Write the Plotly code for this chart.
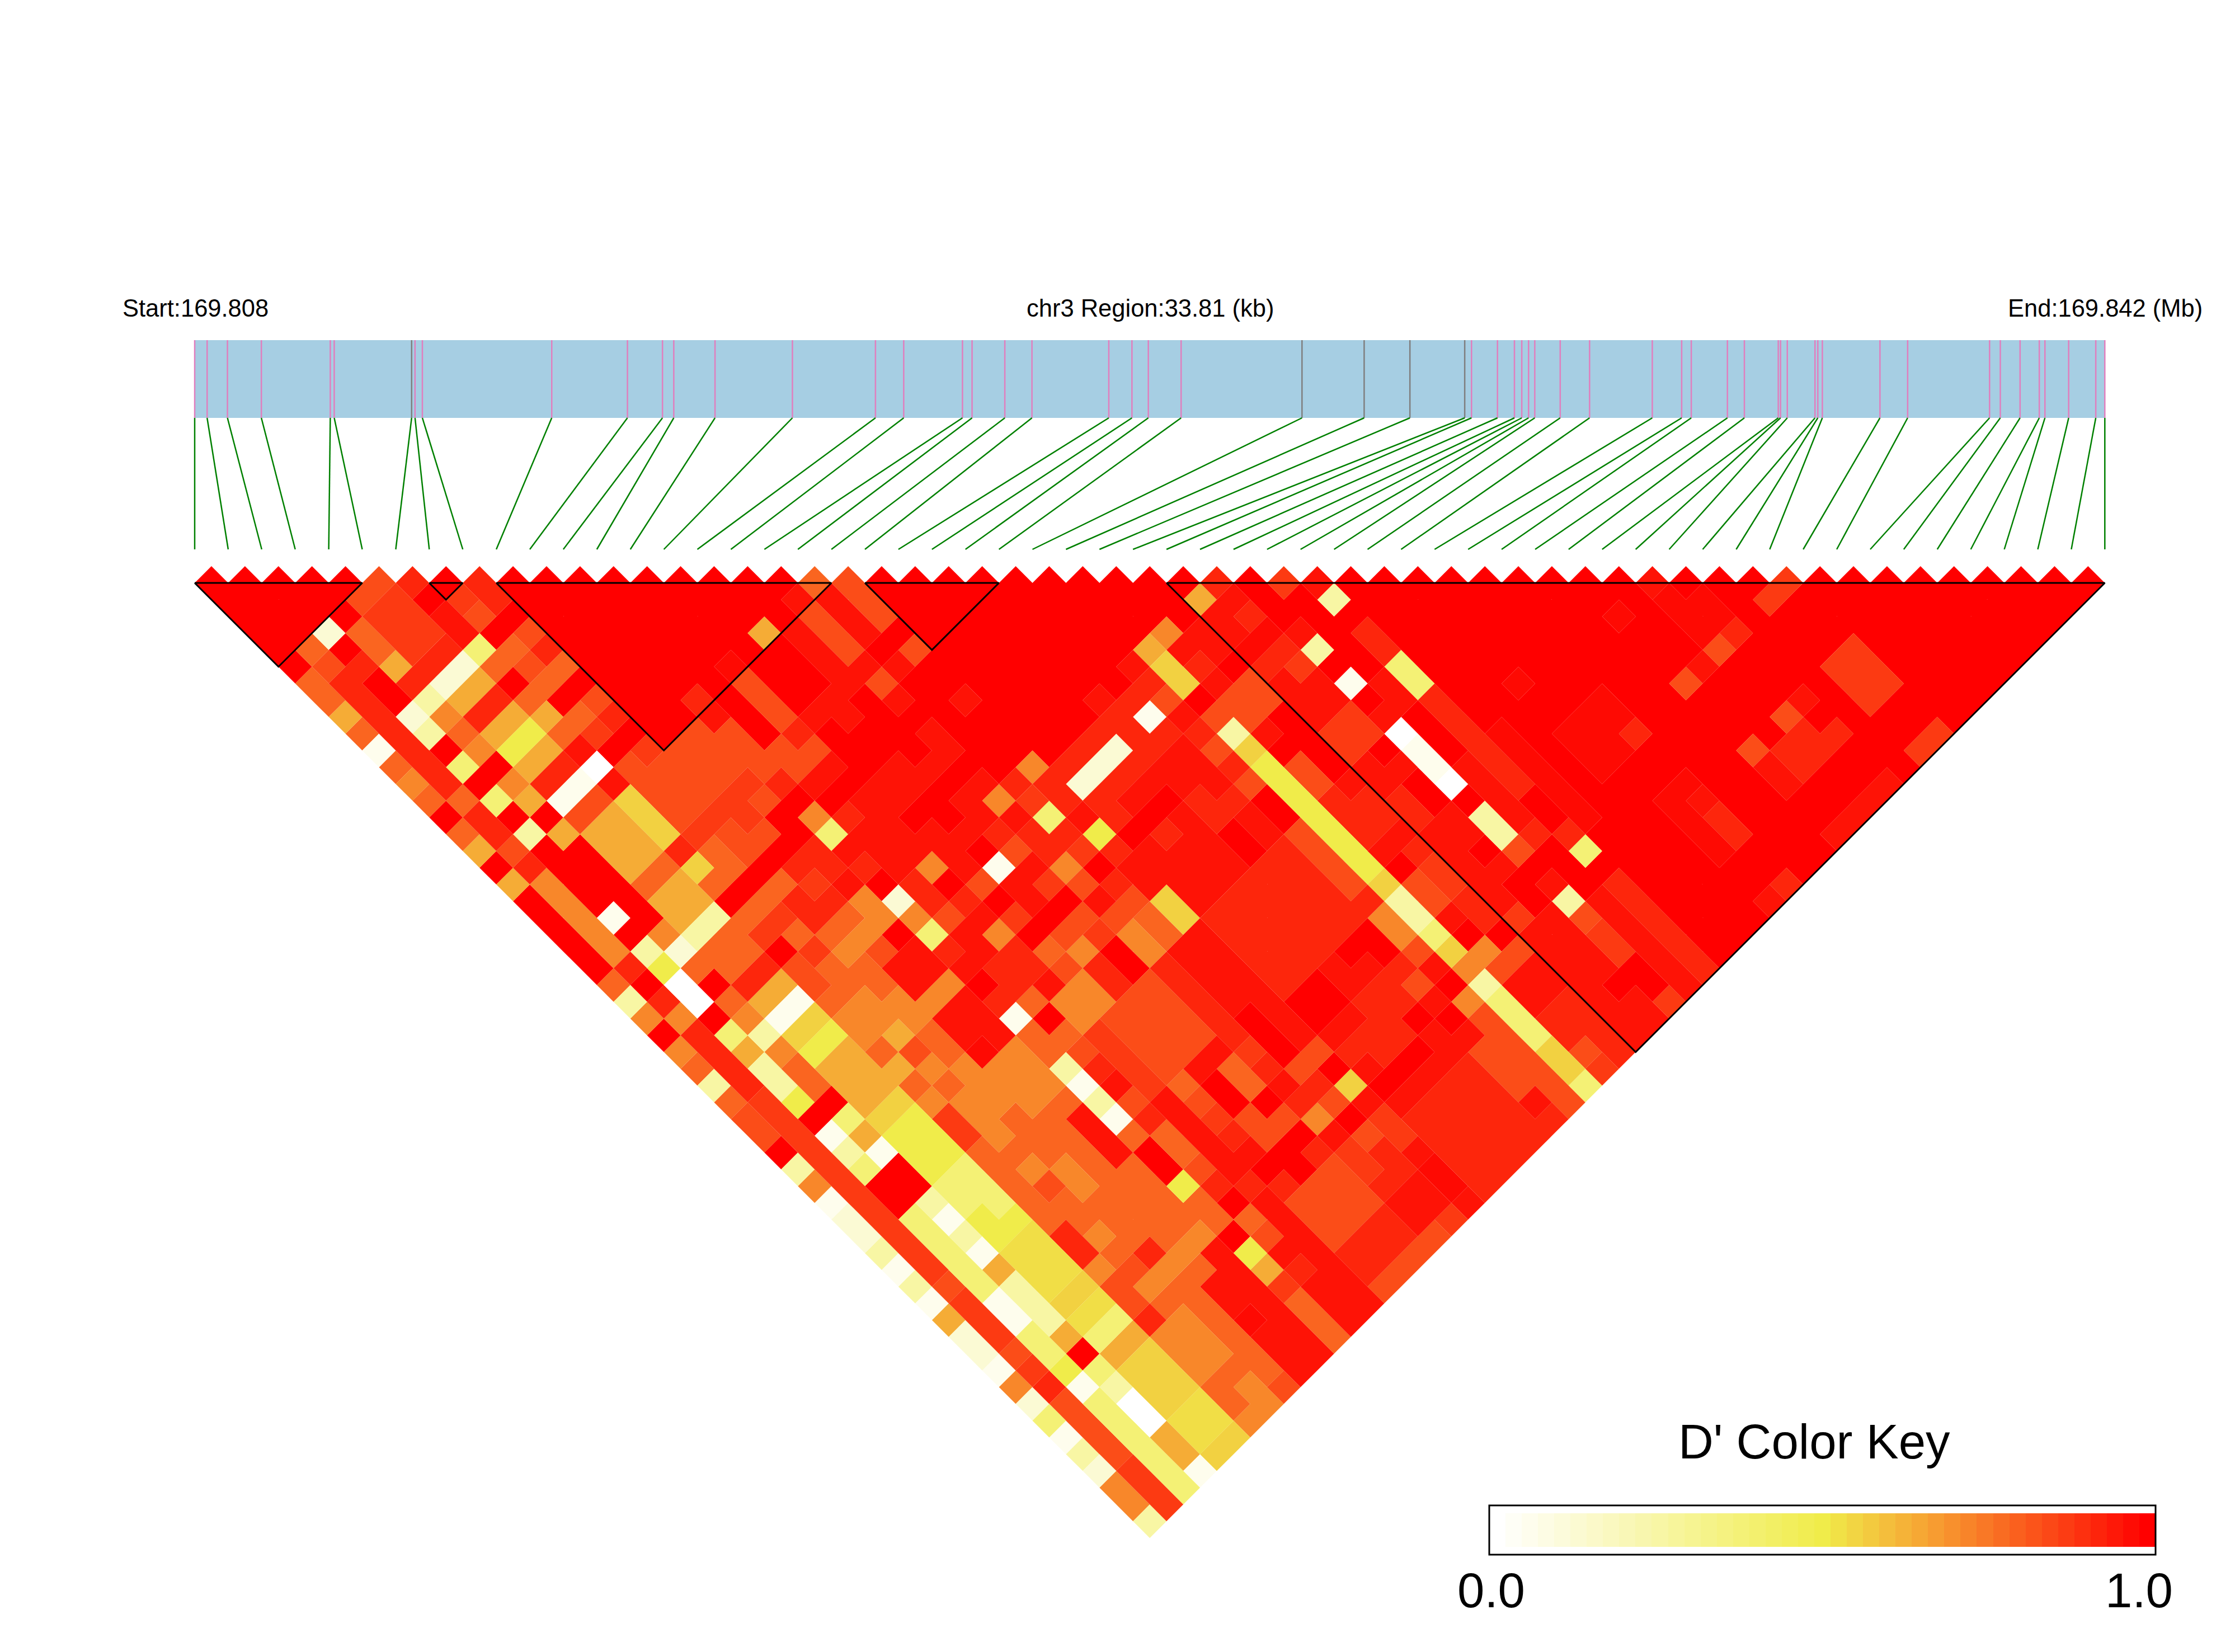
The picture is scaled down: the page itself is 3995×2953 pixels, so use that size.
import plotly.graph_objects as go

# SNP positions along the region (kb from the start)
snp_kb = [0.00,0.22,0.58,1.18,2.40,2.47,3.84,3.90,4.03,6.32,7.66,8.28,8.48,9.21,10.58,12.05,12.55,13.59,13.76,14.34,
          14.82,16.18,16.59,16.88,17.46,19.60,20.70,21.51,22.48,22.60,23.06,23.36,23.49,23.61,23.72,24.17,24.69,25.80,
          26.32,26.49,27.13,27.43,28.03,28.07,28.19,28.68,28.73,28.81,29.83,30.32,31.77,31.96,32.31,32.65,32.75,33.17,33.65,33.81]
grey_snps = [6,25,26,27,28]
region_kb = 33.81
blocks = [(0,5),(7,8),(9,19),(20,24),(29,57)]

# D' level codes
levels = {'0':0.0,'1':0.05,'2':0.12,'3':0.25,'4':0.38,'5':0.50,'x':0.53,'6':0.56,'7':0.64,'8':0.72,'9':0.79,
          'a':0.84,'b':0.88,'c':0.92,'d':0.96,'f':0.98,'e':1.0}

# One row per SNP i: codes for the pairs (i, j), j = i+1 ... 57
ld_rows = [
 "eeeeee9979 1989e97e7e eeee938e89 39aae38122 3131722182 4132883",
 "eeee9accc cccc9ccac8 8888cec8cc ccbbbbbbbb bbbabbbabc aaaabbb",
 "eee2ecee 23e4e4e3ee ee1e3500e4 7335e134ee 4444411445 1444444",
 "eee997c 3898e87e7e eeee829e98 3899e471ee 313173337e 4300771",
 "eabbbc 27c757c1a7 77977399c7 1657776555 4455xxx6x4 7666xx6",
 "abbbc 27c757c1a7 77977399c7 1657776555 4445xxx6x4 7666xx6",
 "cedd 49e979d0d6 66c69e9bea a9889798bb 99999cc8aa c888998",
 "eba e9a9e9beaa aab99e9b9b 99887a8988 898a9989a8 9888988",
 "cc eac9eaceba aabaae9cc9 8998899888 99988999c8 999999a",
 "e eeeeeeeeea aabbaecbc9 8add8ddf88 8999999998 9ddfddd",
 "eeeeeeeeea aabaeeccd8 8edd8ddd88 89ddd99998 ddddddd",
 "eeeeeeecd aaace84dce 284cdec199 31319ee599 e57b999",
 "eeeeeeee eeaadecddd ccaddcc9e9 acdac99ace 9adcddd",
 "eeeeefa aacadedddd 8ecd8ccd88 bbbbdddddc ddddddd",
 "eeeeee eedeeedded ddaebe9a88 aaaa9abcde caaacca",
 "eee7e eeddeeddee de1ddea8cc aaaadeeaae eaaacca",
 "eeed dddeeeeded dcadbeabee aaaad99eae caaacca",
 "eda aadadedded 8dcc8ada88 cccccbcdc8 dbbcdda",
 "9d ddedeeeeee cb4cbeca99 ddddeeeaca eaccddb",
 "a aaeaeedeee 8ccd5cdd66 dddddddae6 dbbdffd",
 "eeeeeeeeee ec2cceddd d ccccceedcd edccccc",
 "eeeeeeeee ec2cdecddd ccccceedcc edccccc",
 "eeeeeeee ec2cdedddd cccccddccc edccccc",
 "eeeeeee dcccddccee cccccedcce ddccccc",
 "eeeeee ec1cdddcdd ccccceecad edaaadc",
 "eeeee dcadcacaee aaaac88ade 8aaaaaa",
 "eeee 766ea36555 5555633468 3444664",
 "eee 8dcdaadeaa cccdeaade8 addccab",
 "ee eddeaaeeee dccdcbbcce addcccc",
 "e 7ddfcdddbb ddccdddddb ddddddd",
 "cdcfcbddbb edeeddedee ddddedd",
 "eeed3e1ed 0110e33aed 3abbeeb",
 "beeeeedd eeeddddcee edddddd",
 "d3ecc44 cccccceec4 ecccccc",
 "eeeeeeeee ffffff eeeeeeee",
 "eeeeeeeeeeeeeeeeeeeeee",
 "eeeeee f ee fff eeeeeeeee",
 "eeeeeeee fff ee ffff ee d",
 "eeeeeee ff c ee f d cc ee c",
 "eeeeeeeeeeeeeeeeee",
 "eeeeeeeeeeeeeeeee",
 "ee f eee a eee a dd ee d",
 "eeeee d eeee cc ee d",
 "d f ff a eee a cc ee d",
 "e ff c eee d e c ee d",
 "eeeeeeeeeeee",
 "e b eee bbb ee b",
 "b eee bbb ee b",
 "eeeeeeeee","eeeeeeee","eeeeeee","eeeeee","eeeee","eeee","eee","ee","e",
]

gene_color = "#A6CEE3"; tick_pink = "#E07FBE"; tick_grey = "#7F7F7F"; link_green = "#008000"

def hex_rgb(h):
    return tuple(int(h[k:k+2],16) for k in (1,3,5))
stops = [(0.0,"#FFFFFF"),(0.5,"#F0EC4A"),(0.68,"#F79A30"),(1.0,"#FF0000")]
def colour(v):
    for (a,ca),(b,cb) in zip(stops,stops[1:]):
        if v<=b:
            t=(v-a)/(b-a); A,B=hex_rgb(ca),hex_rgb(cb)
            return "rgb(%d,%d,%d)"%tuple(round(A[k]+(B[k]-A[k])*t) for k in range(3))
    return "rgb(255,0,0)"

n=len(snp_kb)
assert len(ld_rows)==n-1, len(ld_rows)
rows=[r.replace(" ","") for r in ld_rows]
for i,r in enumerate(rows):
    assert len(r)==n-1-i, (i,len(r),n-1-i)

fig=go.Figure()
polys={}
for i,r in enumerate(rows):
    for off,c in enumerate(r):
        j=i+1+off
        cx=(i+j)/2; cy=(j-i-1)/2
        xs,ys=polys.setdefault(c,([],[]))
        xs+= [cx,cx+.5,cx,cx-.5,cx,None]
        ys+= [cy-.5,cy,cy+.5,cy,cy-.5,None]
for c,(xs,ys) in polys.items():
    fig.add_trace(go.Scatter(x=xs,y=ys,mode="lines",fill="toself",fillcolor=colour(levels[c]),
                             line=dict(width=0),hoverinfo="skip",showlegend=False))

# axis units: one SNP step = 59.9 page pixels
U=59.9; X0=340; Y0=1034; W=3995; H=2953
def py(p): return (p-Y0)/U
def px(p): return (p-X0)/U

# block outlines
bx=[];by=[]
for a,b in blocks:
    bx+=[a,b,(a+b)/2,a,None]; by+=[0,0,(b-a)/2,0,None]
fig.add_trace(go.Scatter(x=bx,y=by,mode="lines",line=dict(color="black",width=3),hoverinfo="skip",showlegend=False))

# gene bar
scale=(n-1)/region_kb
fig.add_shape(type="rect",x0=0,x1=region_kb*scale,y0=py(600),y1=py(739),fillcolor=gene_color,line_width=0,layer="below")
for idx,k in enumerate(snp_kb):
    fig.add_shape(type="line",x0=k*scale,x1=k*scale,y0=py(600),y1=py(739),
                  line=dict(color=tick_grey if idx in grey_snps else tick_pink,width=2.5))
    fig.add_shape(type="line",x0=k*scale,x1=idx,y0=py(739),y1=py(974),line=dict(color=link_green,width=2.5))

def text(x,y,s,size,anchor="center"):
    fig.add_annotation(x=px(x),y=py(y),text=s,showarrow=False,xanchor=anchor,yanchor="middle",
                       font=dict(family="Liberation Sans",size=size,color="black"))
text(209,543,"Start:169.808",43.5,"left")
text(2048,543,"chr3 Region:33.81 (kb)",43.5)
text(3931,543,"End:169.842 (Mb)",43.5,"right")
text(3235,2568,"D' Color Key",87)
text(2657,2834,"0.0",87)
text(3815,2834,"1.0",87)

# colour key
key_vals=[k/40 for k in range(41)]
L0=2667-13; L1=3858-13
step=(L1-L0)/41
fig.add_trace(go.Heatmap(x=[px(L0+(k+.5)*step) for k in range(41)],y=[py(2727)],z=[key_vals],
    dy=py(2785)-py(2697),zmin=0,zmax=1,zsmooth=False,showscale=False,hoverinfo="skip",
    colorscale=[[a,c] for a,c in stops]))
fig.add_shape(type="rect",x0=px(L0),x1=px(L1),y0=py(2683),y1=py(2771),line=dict(color="black",width=3),fillcolor="rgba(0,0,0,0)")

fig.update_layout(width=W,height=H,margin=dict(l=0,r=0,t=0,b=0),paper_bgcolor="white",plot_bgcolor="white",
    xaxis=dict(range=[px(0),px(W)],visible=False,fixedrange=True),
    yaxis=dict(range=[py(H),py(0)],visible=False,fixedrange=True),showlegend=False)
fig.write_html("out.html")
